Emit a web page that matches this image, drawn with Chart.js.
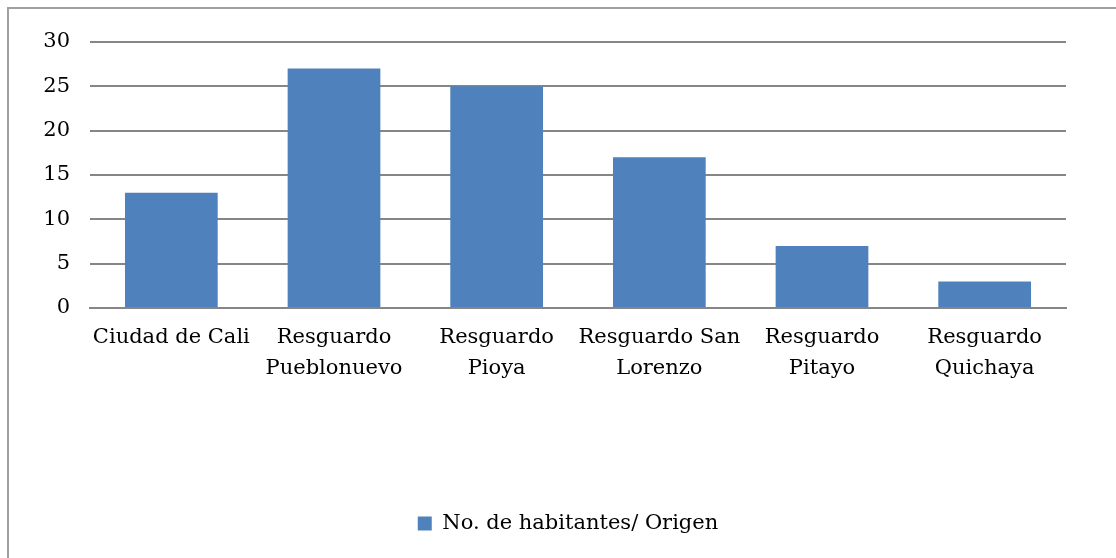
<!DOCTYPE html>
<html>
<head>
<meta charset="utf-8">
<script src="https://cdn.jsdelivr.net/npm/chart.js@4.4.1/dist/chart.umd.min.js"></script>
<style>
  html, body { margin: 0; padding: 0; background: #fff; }
  #wrap { position: relative; width: 1116px; height: 558px; overflow: hidden; }
  #frame { position: absolute; left: 7px; top: 7px; width: 1200px; height: 700px;
           border-left: 2px solid #a0a0a0; border-top: 2px solid #a0a0a0; box-sizing: border-box; }
  canvas { position: absolute; left: 0; top: 0; }
</style>
</head>
<body>
<div id="wrap">
  <div id="frame"></div>
  <canvas id="c" width="1116" height="558"></canvas>
</div>
<script>
const categories = [
  ["Ciudad de Cali"],
  ["Resguardo", "Pueblonuevo"],
  ["Resguardo", "Pioya"],
  ["Resguardo San", "Lorenzo"],
  ["Resguardo", "Pitayo"],
  ["Resguardo", "Quichaya"]
];
const seriesName = "No. de habitantes/ Origen";
const values = [13, 27, 25, 17, 7, 3];
const yTicks = [0, 5, 10, 15, 20, 25, 30];

const FONT = "'DejaVu Serif', serif";
const FSIZE = 21;

new Chart(document.getElementById('c'), {
  type: 'bar',
  data: {
    labels: categories,
    datasets: [{
      label: seriesName,
      data: values,
      backgroundColor: '#4f81bd',
      borderWidth: 0,
      barPercentage: 0.57,
      categoryPercentage: 1.0
    }]
  },
  options: {
    responsive: false,
    animation: false,
    devicePixelRatio: 1,
    layout: { padding: { left: 40, right: 20, top: 42, bottom: 14 } },
    plugins: {
      legend: {
        position: 'bottom',
        labels: {
          font: { family: FONT, size: FSIZE },
          color: '#000',
          boxWidth: 14,
          boxHeight: 14,
          padding: 4
        }
      },
      tooltip: { enabled: false }
    },
    scales: {
      x: {
        grid: { display: false, drawTicks: false },
        border: { display: true, color: '#868686', width: 2 },
        ticks: {
          font: { family: FONT, size: FSIZE, lineHeight: 1.48 },
          color: '#000',
          padding: 14,
          maxRotation: 0,
          autoSkip: false
        },
        afterFit: (s) => { s.height = 201; }
      },
      y: {
        min: 0, max: 30,
        afterBuildTicks: (s) => { s.ticks = yTicks.map(v => ({ value: v })); },
        grid: { color: '#868686', lineWidth: 2, drawTicks: false },
        border: { display: false },
        ticks: {
          font: { family: FONT, size: FSIZE },
          color: '#000',
          padding: 20
        },
        afterFit: (s) => { s.width = 50; }
      },
      yRightSpacer: {
        position: 'right',
        display: true,
        min: 0, max: 30,
        grid: { display: false, drawTicks: false },
        border: { display: false },
        ticks: { display: false },
        afterFit: (s) => { s.width = 30; }
      }
    }
  }
});
</script>
</body>
</html>
